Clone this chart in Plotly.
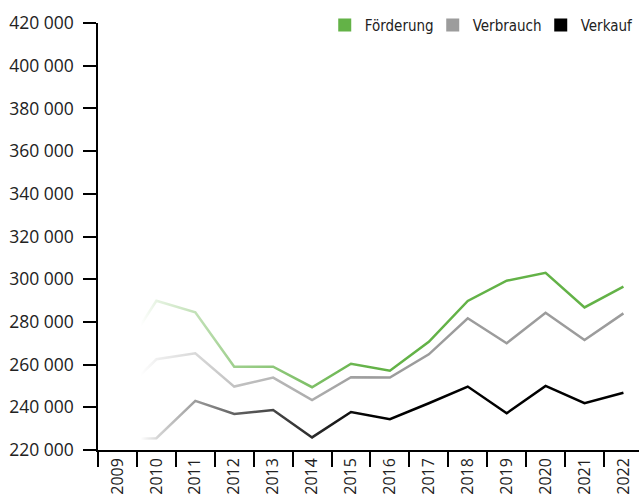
import base64
import plotly.graph_objects as go

years = [str(y) for y in range(2009, 2023)]
foerderung = [261800, 289900, 284500, 259000, 259000, 249400, 260400, 257100,
              270700, 289800, 299300, 303000, 286800, 296500]
verbrauch = [244700, 262500, 265300, 249700, 253900, 243400, 254100, 253900,
             264800, 281700, 270000, 284300, 271500, 284000]
verkauf = [225000, 225500, 243000, 236900, 238700, 225900, 237800, 234400,
           241900, 249700, 237200, 250000, 241900, 246800]

series_names = ["Förderung", "Verbrauch", "Verkauf"]
series_values = [foerderung, verbrauch, verkauf]
series_colors = ["#63b247", "#9c9c9c", "#000000"]

y_ticks = list(range(220000, 420001, 20000))

TICK_FONT = "Open Sans, Noto Sans, sans-serif"
LEGEND_FONT = "DejaVu Sans Condensed, Liberation Sans Narrow, Noto Sans, sans-serif"

fig = go.Figure()
for name, vals, col in zip(series_names, series_values, series_colors):
    fig.add_trace(go.Scatter(x=years, y=vals, mode="lines", name=name,
                             line=dict(color=col, width=2.5),
                             showlegend=False, hoverinfo="x+y"))
for name, col in zip(series_names, series_colors):
    fig.add_trace(go.Scatter(x=[None], y=[None], mode="markers", name=name,
                             marker=dict(symbol="square", size=13, color=col),
                             showlegend=True))

# white gradient overlay to fade the early years
svg = ('<svg xmlns="http://www.w3.org/2000/svg" viewBox="0 0 100 100" preserveAspectRatio="none">'
       '<defs><linearGradient id="g" x1="0" y1="0" x2="1" y2="0">'
       '<stop offset="0" stop-color="#fff" stop-opacity="1"/>'
       '<stop offset="0.15" stop-color="#fff" stop-opacity="1"/>'
       '<stop offset="0.215" stop-color="#fff" stop-opacity="0.83"/>'
       '<stop offset="0.36" stop-color="#fff" stop-opacity="0.6"/>'
       '<stop offset="0.5" stop-color="#fff" stop-opacity="0.38"/>'
       '<stop offset="0.65" stop-color="#fff" stop-opacity="0.27"/>'
       '<stop offset="0.79" stop-color="#fff" stop-opacity="0.17"/>'
       '<stop offset="0.94" stop-color="#fff" stop-opacity="0.05"/>'
       '<stop offset="1" stop-color="#fff" stop-opacity="0"/>'
       '</linearGradient></defs>'
       '<rect x="0" y="0" width="100" height="100" fill="url(#g)"/></svg>')
src = "data:image/svg+xml;base64," + base64.b64encode(svg.encode()).decode()
fig.add_layout_image(dict(source=src, xref="paper", yref="paper",
                          x=0.004, y=0.99, sizex=0.5, sizey=0.985,
                          xanchor="left", yanchor="top", sizing="stretch",
                          layer="above"))

fig.update_layout(
    width=639, height=501,
    margin=dict(l=98, r=0, t=23, b=51, autoexpand=False),
    paper_bgcolor="white", plot_bgcolor="white",
    separators=". ",
    showlegend=True,
    legend=dict(orientation="h", x=1.018, xanchor="right", y=0.995, yanchor="middle",
                entrywidth=63, entrywidthmode="pixels",
                font=dict(family=LEGEND_FONT, size=15, color="#222"),
                bgcolor="rgba(0,0,0,0)", itemclick=False),
    xaxis=dict(type="category", range=[-0.5, 13.4], tickson="boundaries",
               ticks="outside", ticklen=15, tickwidth=1.5, tickcolor="#000",
               showline=True, linecolor="#000", linewidth=1.5,
               showgrid=False, zeroline=False, tickangle=-90,
               tickfont=dict(family=TICK_FONT, size=16, color="#222")),
    yaxis=dict(range=[220000, 420000], tickvals=y_ticks, tickformat=",d",
               ticks="outside", ticklen=13, tickwidth=1.5, tickcolor="#000",
               showline=True, linecolor="#000", linewidth=1.5,
               showgrid=False, zeroline=False, ticklabelstandoff=6,
               tickfont=dict(family=TICK_FONT, size=17.5, color="#222")),
)

fig.write_html("out.html", config={"displayModeBar": False},
               post_script="document.body.style.margin='0';document.body.style.overflow='hidden';")
